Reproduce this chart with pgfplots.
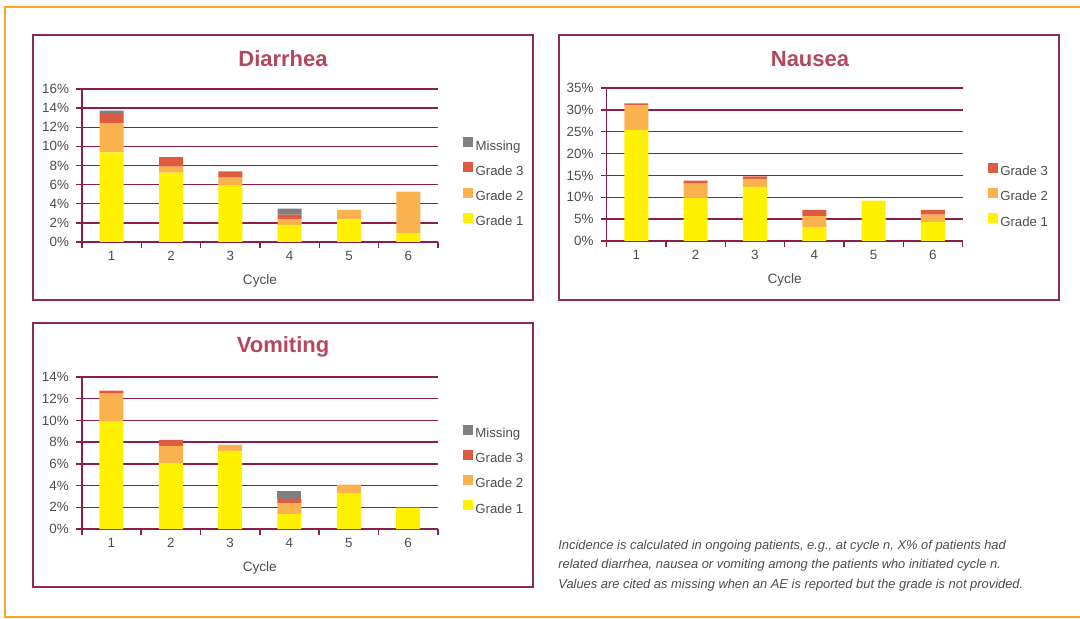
\documentclass[border=0pt]{standalone}
\usepackage{pgfplots}
\pgfplotsset{compat=1.18}
\usepackage{pgfplotstable}
\usepackage{fontspec}
\setmainfont{Liberation Sans}

\definecolor{framec}{HTML}{8E2B52}
\definecolor{gridc}{HTML}{8B1E4B}
\definecolor{ttl}{HTML}{B4475C}
\definecolor{gA}{HTML}{FFF100}
\definecolor{gB}{HTML}{FAB24E}
\definecolor{gC}{HTML}{DE5B40}
\definecolor{gM}{HTML}{808080}
\definecolor{outer}{HTML}{F9A825}
\definecolor{txt}{HTML}{4D4D4D}

% incidence (%) per cycle, split by grade
\pgfplotstableread{
cycle g1   g2   g3   miss
1     9.38 3.09 1.00 0.28
2     7.25 0.64 0.99 0
3     5.93 0.79 0.67 0
4     1.78 0.63 0.46 0.63
5     2.41 0.95 0    0
6     0.94 4.34 0    0
}\diarrhea

\pgfplotstableread{
cycle g1    g2   g3
1     25.40 5.60 0.50
2     9.95  3.15 0.70
3     12.40 1.80 0.60
4     3.20  2.47 1.43
5     9.26  0    0
6     4.30  1.75 1.05
}\nausea

\pgfplotstableread{
cycle g1   g2   g3   miss
1     9.94 2.52 0.28 0
2     6.06 1.57 0.57 0
3     7.20 0.55 0    0
4     1.38 0.99 0.43 0.70
5     3.26 0.83 0    0
6     1.97 0    0    0
}\vomiting

\pgfplotsset{
  panel/.style={
    scale only axis, width=178pt, height=76.5pt,
    anchor=south west,
    ybar stacked, bar width=12pt,
    xmin=0.5, xmax=6.5, ymin=0,
    xtick={1,...,6},
    minor xtick={0.5,1.5,...,6.5},
    axis x line*=bottom, axis y line*=left,
    axis line style={-, draw=gridc, line width=0.7pt},
    ymajorgrids, major grid style={gridc, line width=0.7pt},
    tick align=outside,
    major tick length=3pt, minor tick length=3pt,
    major x tick style={draw=none},
    minor x tick style={draw=gridc, line width=0.7pt},
    major y tick style={draw=gridc, line width=0.7pt},
    /pgf/number format/assume math mode=true,
    yticklabel={\pgfmathprintnumber{\tick}\%},
    tick label style={font=\fontsize{6.7}{7}\selectfont, text=txt},
    xticklabel style={yshift=2pt},
    xlabel={Cycle},
    xlabel style={font=\fontsize{6.8}{7}\selectfont, text=txt, at={(axis description cs:0.5,-0.255)}, anchor=center},
    legend style={draw=none, fill=none, anchor=west,
      font=\fontsize{6.6}{7}\selectfont, text=txt,
      row sep=4.6pt,
      nodes={inner sep=0pt, text height=5pt, text depth=1.5pt}},
    /tikz/every odd column/.append style={column sep=1.2pt},
    legend cell align=left,
    reverse legend,
    every axis plot post/.append style={draw=none,
      legend image code/.code={\fill[##1] (0pt,-0.3pt) rectangle (5pt,4.7pt);}},
  },
}

\begin{document}
\begin{tikzpicture}
\useasboundingbox (0,0) rectangle (540pt,-309.5pt);

\begin{scope}[x=0.5pt, y=-0.5pt]
  % outer frame
  \draw[outer, line width=1.3pt] (1090,7) -- (5,7) -- (5,617) -- (1090,617);
  % panel frames
  \draw[framec, line width=1pt] (33,35) rectangle (533,300);
  \draw[framec, line width=1pt] (559,35) rectangle (1059,300);
  \draw[framec, line width=1pt] (33,323) rectangle (533,587);
  % panel titles
  \node[font=\bfseries\fontsize{11}{12}\selectfont, text=ttl] at (283,59) {Diarrhea};
  \node[font=\bfseries\fontsize{11}{12}\selectfont, text=ttl] at (810,59) {Nausea};
  \node[font=\bfseries\fontsize{11}{12}\selectfont, text=ttl] at (283,347) {Vomiting};
  % note
  \begin{scope}[every node/.style={anchor=west, inner sep=0pt, text=txt, font=\itshape\fontsize{6.45}{7}\selectfont}]
    \node at (558,546) {Incidence is calculated in ongoing patients, e.g., at cycle n, X\% of patients had};
    \node at (558,565) {related diarrhea, nausea or vomiting among the patients who initiated cycle n.};
    \node at (558,585) {Values are cited as missing when an AE is reported but the grade is not provided.};
  \end{scope}
\end{scope}

% Diarrhea
\begin{axis}[panel, at={(41pt,-121pt)}, ymax=16, ytick={0,2,...,16},
  legend style={at={(1.053,0.386)}}]
  \addplot[fill=gA] table[x=cycle,y=g1]{\diarrhea};
  \addplot[fill=gB] table[x=cycle,y=g2]{\diarrhea};
  \addplot[fill=gC] table[x=cycle,y=g3]{\diarrhea};
  \addplot[fill=gM] table[x=cycle,y=miss]{\diarrhea};
  \legend{Grade 1,Grade 2,Grade 3,Missing}
\end{axis}

% Nausea
\begin{axis}[panel, at={(303.3pt,-120.5pt)}, ymax=35, ytick={0,5,...,35},
  legend style={at={(1.053,0.294)}}]
  \addplot[fill=gA] table[x=cycle,y=g1]{\nausea};
  \addplot[fill=gB] table[x=cycle,y=g2]{\nausea};
  \addplot[fill=gC] table[x=cycle,y=g3]{\nausea};
  \legend{Grade 1,Grade 2,Grade 3}
\end{axis}

% Vomiting
\begin{axis}[panel, at={(40.9pt,-264.5pt)}, height=76pt, ymax=14, ytick={0,2,...,14},
  legend style={at={(1.053,0.385)}}]
  \addplot[fill=gA] table[x=cycle,y=g1]{\vomiting};
  \addplot[fill=gB] table[x=cycle,y=g2]{\vomiting};
  \addplot[fill=gC] table[x=cycle,y=g3]{\vomiting};
  \addplot[fill=gM] table[x=cycle,y=miss]{\vomiting};
  \legend{Grade 1,Grade 2,Grade 3,Missing}
\end{axis}
\end{tikzpicture}
\end{document}
